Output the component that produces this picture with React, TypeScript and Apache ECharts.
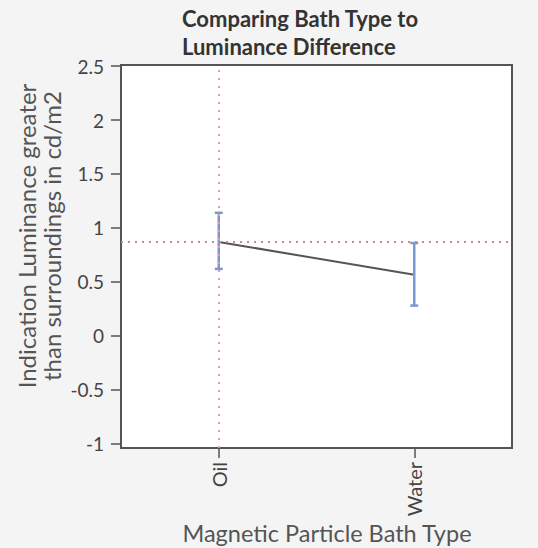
import React, { useEffect, useRef } from "react";
import * as echarts from "echarts";

const categories = ["Oil", "Water"];
const means = [0.87, 0.565];
const lowerBounds = [0.62, 0.28];
const upperBounds = [1.14, 0.86];
const grandMean = 0.87;
const yTicks = [-1, -0.5, 0, 0.5, 1, 1.5, 2, 2.5];
const titleLines = ["Comparing Bath Type to", "Luminance Difference"];
const yAxisTitle = ["Indication Luminance greater", "than surroundings in cd/m2"];
const xAxisTitle = "Magnetic Particle Bath Type";

const FONT = "Lato, 'Open Sans', sans-serif";

export default function App() {
  const ref = useRef<HTMLDivElement>(null);
  useEffect(() => {
    document.body.style.margin = "0";
    const chart = echarts.init(ref.current!, null, { renderer: "svg" });
    const option: any = {
      animation: false,
      backgroundColor: "#f4f4f4",
      grid: {
        left: 121,
        right: 26,
        top: 65,
        bottom: 100,
        show: true,
        backgroundColor: "#ffffff",
        borderColor: "#555555",
        borderWidth: 2,
      },
      xAxis: {
        type: "category",
        data: categories,
        boundaryGap: true,
        axisLine: { show: false, onZero: false },
        axisTick: { show: true, alignWithLabel: true, length: 10, inside: false, lineStyle: { color: "#555", width: 1.5 } },
        axisLabel: { rotate: 90, fontFamily: FONT, fontSize: 20, color: "#444", margin: 14 },
        splitLine: { show: false },
      },
      yAxis: {
        type: "value",
        min: -1.04,
        max: 2.51,
        axisLine: { show: false, onZero: false },
        axisTick: { show: true, length: 10, inside: false, customValues: yTicks, lineStyle: { color: "#555", width: 1.5 } },
        axisLabel: { customValues: yTicks, fontFamily: FONT, fontSize: 19, color: "#444", margin: 17 },
        splitLine: { show: false },
      },
      graphic: [
        {
          type: "text",
          left: 182,
          top: 4,
          style: {
            text: titleLines.join("\n"),
            font: `bold 22px ${FONT}`,
            fill: "#333",
            lineHeight: 28,
          },
        },
        {
          type: "text",
          x: 39,
          y: 236,
          rotation: Math.PI / 2,
          style: {
            text: yAxisTitle.join("\n"),
            font: `24px ${FONT}`,
            fill: "#555",
            align: "center",
            verticalAlign: "middle",
            lineHeight: 25,
          },
        },
        {
          type: "text",
          x: 327,
          y: 533,
          style: {
            text: xAxisTitle,
            font: `23.5px ${FONT}`,
            fill: "#555",
            align: "center",
            verticalAlign: "middle",
          },
        },
      ],
      series: [
        {
          type: "line",
          data: means,
          symbol: "none",
          lineStyle: { color: "#555", width: 2 },
          z: 3,
          markLine: {
            silent: true,
            symbol: "none",
            label: { show: false },
            data: [
              { yAxis: grandMean, lineStyle: { color: "#c88", type: [2, 5], width: 2 } },
              { xAxis: categories[0], lineStyle: { color: "#e99", type: [2, 6], width: 2 } },
            ],
          },
        },
        {
          type: "custom",
          z: 4,
          data: categories.map((_, i) => [i, lowerBounds[i], upperBounds[i]]),
          renderItem: (params: any, api: any) => {
            const lo = api.coord([api.value(0), api.value(1)]);
            const hi = api.coord([api.value(0), api.value(2)]);
            const hw = 4;
            const style = { stroke: "#7b98d2", lineWidth: 2.5 };
            return {
              type: "group",
              children: [
                { type: "line", shape: { x1: lo[0], y1: lo[1], x2: hi[0], y2: hi[1] }, style },
                { type: "line", shape: { x1: lo[0] - hw, y1: lo[1], x2: lo[0] + hw, y2: lo[1] }, style },
                { type: "line", shape: { x1: hi[0] - hw, y1: hi[1], x2: hi[0] + hw, y2: hi[1] }, style },
              ],
            };
          },
        },
      ],
    };
    chart.setOption(option);
    return () => chart.dispose();
  }, []);
  return <div ref={ref} style={{ width: 538, height: 548 }} />;
}
